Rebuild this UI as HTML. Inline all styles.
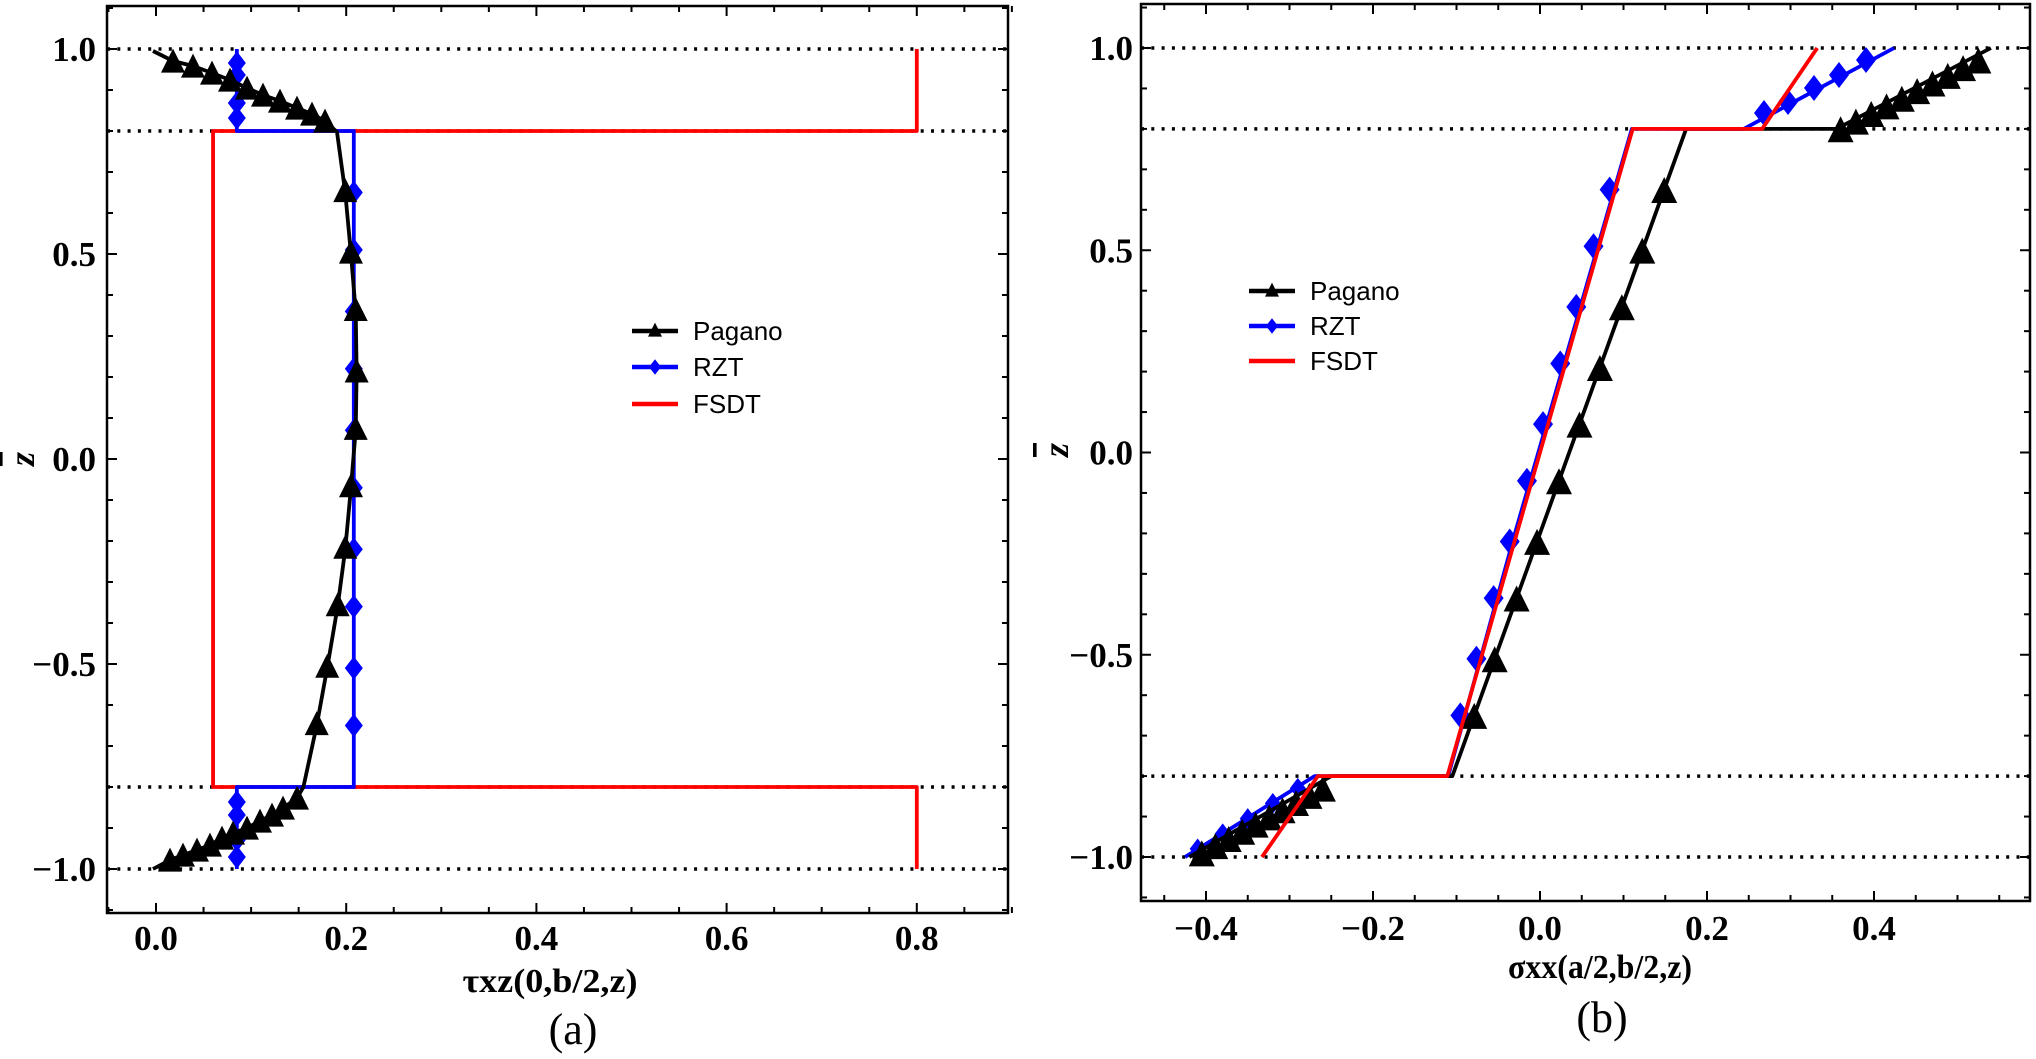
<!DOCTYPE html>
<html><head><meta charset="utf-8"><style>
html,body{margin:0;padding:0;background:#fff;}
svg{display:block;}
</style></head><body>
<svg id="s" width="2036" height="1059" xmlns="http://www.w3.org/2000/svg"></svg>
<script>
const S=document.getElementById('s');let h='';
function P(o){
 const X=x=>o.x0+o.sx*x, Y=y=>o.y0-o.sy*y;
 h+=`<rect x="${o.L}" y="${o.T}" width="${o.R-o.L}" height="${o.B-o.T}" fill="none" stroke="#000" stroke-width="2.5"/>`;
 for(let v=Math.ceil(o.xmin/0.05-1e-6)*0.05; v<=o.xmax+1e-9; v+=0.05){
   const px=X(v), maj=Math.abs(Math.round(v/0.2)*0.2-v)<1e-6;
   const l=maj?10:6;
   h+=`<line x1="${px}" y1="${o.B}" x2="${px}" y2="${o.B-l}" stroke="#000" stroke-width="2"/><line x1="${px}" y1="${o.T}" x2="${px}" y2="${o.T+l}" stroke="#000" stroke-width="2"/>`;
   if(maj){const t=Math.round(v*10)/10;const s=(t<0?'\u2212':'')+Math.abs(t).toFixed(1);
    h+=`<text x="${px}" y="${o.xly}" font-family="Liberation Serif,serif" font-weight="bold" font-size="35" text-anchor="middle">${s}</text>`;}
 }
 for(let i=-11;i<=11;i++){const v=i/10;const py=Y(v);const maj=i%5==0;const l=maj?10:6;
   h+=`<line x1="${o.L}" y1="${py}" x2="${o.L+l}" y2="${py}" stroke="#000" stroke-width="2"/><line x1="${o.R}" y1="${py}" x2="${o.R-l}" y2="${py}" stroke="#000" stroke-width="2"/>`;
   if(maj){const s=(v<0?'\u2212':'')+Math.abs(v).toFixed(1);
    h+=`<text x="${o.ylx}" y="${py+12}" font-family="Liberation Serif,serif" font-weight="bold" font-size="35" text-anchor="end">${s}</text>`;}
 }
 for(const v of [1,0.8,-0.8,-1]) h+=`<line x1="${o.L}" y1="${Y(v)}" x2="${o.R}" y2="${Y(v)}" stroke="#000" stroke-width="3.5" stroke-dasharray="3 7.3"/>`;
 h+=`<text x="${o.zx}" y="${o.zy}" font-family="Liberation Serif,serif" font-weight="bold" font-style="italic" font-size="36" transform="rotate(-90 ${o.zx} ${o.zy})" text-anchor="middle" text-decoration="overline">z</text>`;
 h+=`<text x="${o.tx}" y="${o.ty}" font-family="Liberation Serif,serif" font-weight="bold" font-size="34" text-anchor="middle" textLength="${o.tl}" lengthAdjust="spacingAndGlyphs">${o.title}</text>`;
 h+=`<text x="${o.cx}" y="${o.cy}" font-family="Liberation Serif,serif" font-size="44" text-anchor="middle">${o.cap}</text>`;
 const lg=[['#000','Pagano','t'],['#00f','RZT','d'],['#f00','FSDT','']];
 lg.forEach((g,i)=>{const y=o.lgy[i];
  h+=`<line x1="${o.lgx}" y1="${y}" x2="${o.lgx+46}" y2="${y}" stroke="${g[0]}" stroke-width="4.5"/>`;
  if(g[2]=='t')h+=tri(o.lgx+23,y,7);if(g[2]=='d')h+=dia(o.lgx+23,y,6);
  h+=`<text x="${o.lgx+61}" y="${y+9}" font-family="Liberation Sans,sans-serif" font-size="26">${g[1]}</text>`;});
 return [X,Y];
}
function tri(x,y,s){return `<polygon points="${x},${y-s*1.2} ${x-s},${y+s*0.8} ${x+s},${y+s*0.8}" fill="#000"/>`;}
function dia(x,y,s){return `<polygon points="${x},${y-s*1.3} ${x+s},${y} ${x},${y+s*1.3} ${x-s},${y}" fill="#00f"/>`;}
function pl(pts,c){return `<polyline points="${pts.map(p=>p.join(',')).join(' ')}" fill="none" stroke="${c}" stroke-width="3.8" stroke-linejoin="round"/>`;}

let o={L:107,R:1008,T:6,B:913,x0:156,sx:951,y0:459,sy:410,xmin:-0.054,xmax:0.9,xly:950,ylx:96,zx:34,zy:459,tx:550,ty:992,tl:175,cx:573,cy:1044,title:'τxz(0,b/2,z)',cap:'(a)',lgx:632,lgy:[331,367,404]};
let [X,Y]=P(o);
h+=pl([[X(0.80),Y(1)],[X(0.80),Y(0.8)],[X(0.06),Y(0.8)],[X(0.06),Y(-0.8)],[X(0.80),Y(-0.8)],[X(0.80),Y(-1)]],'#f00');
h+=pl([[X(0.085),Y(1)],[X(0.085),Y(0.8)],[X(0.208),Y(0.8)],[X(0.208),Y(-0.8)],[X(0.085),Y(-0.8)],[X(0.085),Y(-1)]],'#00f');
for(const y of [63,75,103,118,802,815,840,857]) h+=dia(X(0.085),y,9);
for(const v of [0.65,0.51,0.36,0.22,0.07,-0.07,-0.22,-0.36,-0.51,-0.65]) h+=dia(X(0.208),Y(v),9);
const topT=[[173,63],[193,68],[212,75],[230,82],[247,90],[263,97],[280,103],[297,110],[312,116],[325,123]];
const botT=[[170,862],[183,857],[197,852],[210,847],[222,840],[233,835],[247,830],[260,823],[272,817],[283,810],[297,800]];
const core=[[0.199,0.65],[0.205,0.5],[0.21,0.36],[0.211,0.21],[0.21,0.07],[0.205,-0.07],[0.199,-0.22],[0.191,-0.36],[0.18,-0.51],[0.169,-0.65]];
let path=[[153,51],...topT.map(p=>[p[0],p[1]-2]),[337,132],...core.map(p=>[X(p[0]),Y(p[1])]),[X(0.155),Y(-0.8)],...botT.slice().reverse().map(p=>[p[0],p[1]-2]),[153,869]];
h+=pl(path,'#000');
for(const p of topT.concat(botT)) h+=tri(p[0],p[1],12);
for(const p of core) h+=tri(X(p[0]),Y(p[1]),12);

o={L:1141,R:2030,T:4,B:901,x0:1540,sx:835,y0:452.5,sy:404.5,xmin:-0.475,xmax:0.585,xly:940,ylx:1133,zx:1068,zy:450,tx:1600,ty:978,tl:184,cx:1602,cy:1032,title:'σxx(a/2,b/2,z)',cap:'(b)',lgx:1249,lgy:[291,326,361]};
[X,Y]=P(o);
const lin=(a,b,t)=>[a[0]+(b[0]-a[0])*t,a[1]+(b[1]-a[1])*t];
h+=pl([[X(-0.425),Y(-1)],[X(-0.27),Y(-0.8)],[X(-0.11),Y(-0.8)],[X(-0.03),Y(-0.2)],[X(0.11),Y(0.8)],[X(0.244),Y(0.8)],[X(0.424),Y(1)]],'#00f');
for(const v of [-0.65,-0.51,-0.36,-0.22,-0.07,0.07,0.22,0.36,0.51,0.65]){const x=-0.11+0.22*(v+0.8)/1.6-0.006;h+=dia(X(x),Y(v),10);}
for(let i=0;i<5;i++){const p=lin([-0.41,-0.98],[-0.29,-0.83],i/4);h+=dia(X(p[0]),Y(p[1]),8);}
for(const p of [[1764,113],[1788,102],[1814,88],[1839,75],[1866,60]]) h+=dia(p[0],p[1],10);
h+=pl([[X(-0.42),Y(-1)],[X(-0.25),Y(-0.8)],[X(-0.105),Y(-0.8)],[X(0.175),Y(0.8)],[X(0.355),Y(0.8)],[X(0.54),Y(1)]],'#000');
for(const v of [-0.65,-0.51,-0.36,-0.22,-0.07,0.07,0.21,0.36,0.5,0.65]){const x=-0.105+0.28*(v+0.8)/1.6;h+=tri(X(x),Y(v)+3,13);}
for(let i=0;i<10;i++){const p=lin([-0.405,-0.99],[-0.26,-0.83],i/9);h+=tri(X(p[0]),Y(p[1])+3,13);}
for(let i=0;i<10;i++){const p=lin([0.36,0.8],[0.525,0.97],i/9);h+=tri(X(p[0]),Y(p[1])+3,13);}
h+=pl([[X(-0.333),Y(-1)],[X(-0.266),Y(-0.8)],[X(-0.111),Y(-0.8)],[X(0.111),Y(0.8)],[X(0.266),Y(0.8)],[X(0.332),Y(1)]],'#f00');
S.innerHTML=h;
</script>
</body></html>
